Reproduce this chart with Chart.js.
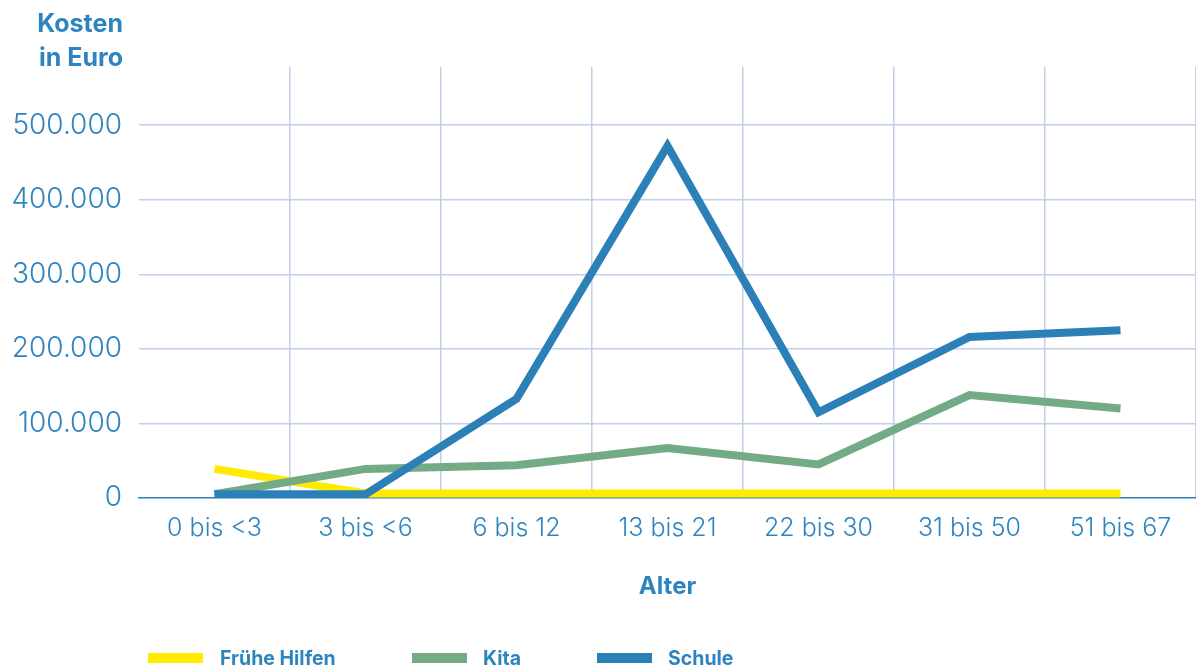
<!DOCTYPE html>
<html lang="de">
<head>
<meta charset="utf-8">
<script src="https://cdn.jsdelivr.net/npm/chart.js@4"></script>
<style>
  html, body { margin: 0; padding: 0; background: #fff; overflow: hidden; }
  #wrap { position: relative; width: 1196px; height: 669px; }
  #chart { position: absolute; left: 0; top: 0; }
  .ytitle {
    position: absolute; left: 0; top: 6px; width: 123px; text-align: right;
    font: bold 25px Inter, sans-serif; line-height: 34px; color: #2e84bf;
  }
  .legend { position: absolute; top: 646px; left: 0; width: 1196px; height: 24px; }
  .legend span.box { position: absolute; top: 7px; width: 55px; height: 10px; }
  .legend span.txt {
    position: absolute; top: 0; font: bold 19.5px Inter, sans-serif; line-height: 24px; color: #2e84bf;
  }
</style>
</head>
<body>
<div id="wrap">
  <canvas id="chart" width="1196" height="669"></canvas>
  <div class="ytitle">Kosten<br>in Euro</div>
  <div class="legend" id="legend"></div>
</div>
<script>
// Kategorien (Altersgruppen) und Werte
const altersgruppen = ['0 bis <3', '3 bis <6', '6 bis 12', '13 bis 21', '22 bis 30', '31 bis 50', '51 bis 67'];
const fruehHilfen = [39000, 6000, 6000, 6000, 6000, 6000, 6000];
const kita = [5000, 39000, 44000, 67000, 45000, 138000, 120000];
const schule = [5000, 5000, 133000, 472000, 115000, 216000, 225000];
const yTicks = [0, 100000, 200000, 300000, 400000, 500000];

const textFarbe = '#2e84bf';
const gitterFarbe = '#c1d0e8';

// Tausenderpunkt wie im Original
function formatZahl(v) {
    return String(v).replace(/\B(?=(\d{3})+(?!\d))/g, '.');
}

const serien = [
    { label: 'Frühe Hilfen', data: fruehHilfen, color: '#ffea00', order: 3 },
    { label: 'Kita', data: kita, color: '#73ab87', order: 2 },
    { label: 'Schule', data: schule, color: '#2b80b8', order: 1 }
];

const ctx = document.getElementById('chart').getContext('2d');
const chart = new Chart(ctx, {
    type: 'line',
    data: {
        labels: altersgruppen,
        datasets: serien.map(s => ({
            label: s.label,
            data: s.data,
            borderColor: s.color,
            backgroundColor: s.color,
            borderWidth: 8,
            pointRadius: 0,
            tension: 0,
            borderJoinStyle: 'miter',
            borderCapStyle: 'butt',
            order: s.order
        }))
    },
    options: {
        responsive: false,
        animation: false,
        layout: {
            padding: { top: 67, left: 0, right: 0, bottom: 61 }
        },
        plugins: {
            legend: { display: false },
            tooltip: { enabled: false }
        },
        scales: {
            x: {
                offset: true,
                grid: {
                    offset: true,
                    drawTicks: false,
                    lineWidth: 1.5,
                    color: (c) => (c.index === 0 ? 'rgba(0,0,0,0)' : gitterFarbe)
                },
                border: { display: true, color: '#2b80b8', width: 1.5 },
                ticks: {
                    padding: 15,
                    color: textFarbe,
                    maxRotation: 0,
                    font: { family: 'Inter', size: 25, weight: 300 }
                },
                title: {
                    display: true,
                    text: 'Alter',
                    color: textFarbe,
                    font: { family: 'Inter', size: 24, weight: 'bold' },
                    padding: { top: 30, bottom: 7 }
                },
                afterFit: (scale) => { scale.height = 110; }
            },
            y: {
                min: 0,
                max: 578000,
                afterBuildTicks: (scale) => {
                    scale.ticks = yTicks.map(v => ({ value: v }));
                },
                grid: {
                    drawTicks: false,
                    lineWidth: 1.5,
                    color: (c) => (c.tick && c.tick.value === 0 ? 'rgba(0,0,0,0)' : gitterFarbe)
                },
                border: { display: false },
                ticks: {
                    padding: 17,
                    color: textFarbe,
                    font: { family: 'Inter', size: 28, weight: 300 },
                    callback: (v) => formatZahl(v)
                },
                afterFit: (scale) => { scale.width = 139; }
            }
        }
    }
});

// Legende unten, wie im Original
const legendPos = [
    { box: 148, txt: 220 },
    { box: 412, txt: 483 },
    { box: 597, txt: 668 }
];
const legend = document.getElementById('legend');
serien.forEach((s, i) => {
    const b = document.createElement('span');
    b.className = 'box';
    b.style.left = legendPos[i].box + 'px';
    b.style.background = s.color;
    const t = document.createElement('span');
    t.className = 'txt';
    t.style.left = legendPos[i].txt + 'px';
    t.textContent = s.label;
    legend.appendChild(b);
    legend.appendChild(t);
});
</script>
</body>
</html>
